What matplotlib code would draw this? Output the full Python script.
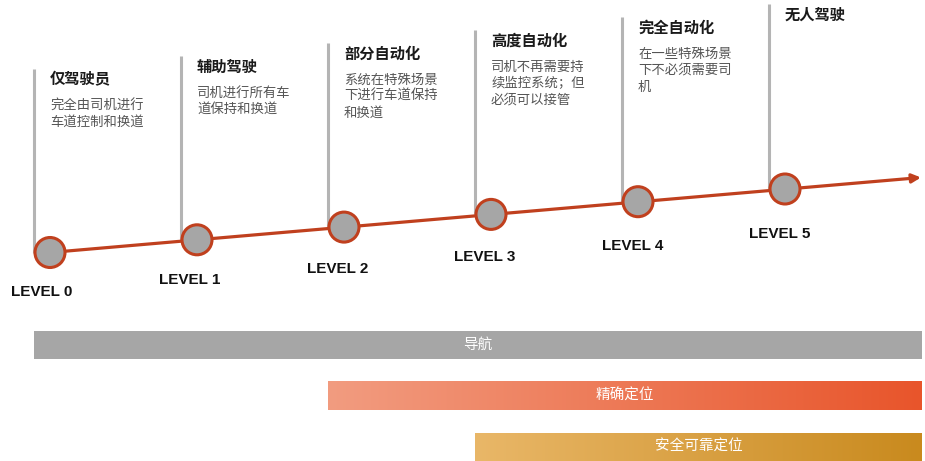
import numpy as np
import matplotlib.pyplot as plt
from matplotlib.patches import Circle
from matplotlib.colors import LinearSegmentedColormap

plt.rcParams['font.family'] = ['Noto Sans CJK SC', 'DejaVu Sans']

levels = [0, 1, 2, 3, 4, 5]
level_labels = ["LEVEL 0", "LEVEL 1", "LEVEL 2", "LEVEL 3", "LEVEL 4", "LEVEL 5"]
titles = ["仅驾驶员", "辅助驾驶", "部分自动化", "高度自动化", "完全自动化", "无人驾驶"]
descriptions = [
    ["完全由司机进行", "车道控制和换道"],
    ["司机进行所有车", "道保持和换道"],
    ["系统在特殊场景", "下进行车道保持", "和换道"],
    ["司机不再需要持", "续监控系统；但", "必须可以接管"],
    ["在一些特殊场景", "下不必须需要司", "机"],
    [],
]

bar_labels = ["导航", "精确定位", "安全可靠定位"]
bar_start_level = [0, 2, 3]
bar_colors = [("#a6a6a6", "#a6a6a6"), ("#f29c80", "#e8552b"), ("#e9b768", "#c98a1e")]

# layout in pixel units
W, H = 925, 461
x0, step = 50, 147
y0, rise = 252.5, 12.7
r = 15
arrow_end = (921, 177.5)
red = "#c0401e"
grey_line = "#b4b4b4"


def pos(i):
    return x0 + step * i, y0 - rise * i


fig = plt.figure(figsize=(W / 100, H / 100), dpi=100)
ax = fig.add_axes([0, 0, 1, 1])
ax.set_xlim(0, W)
ax.set_ylim(H, 0)
ax.axis("off")

# rising timeline with arrow
sx, sy = pos(0)
ax.annotate("", xy=arrow_end, xytext=(sx, sy),
            arrowprops=dict(arrowstyle="-|>", color=red, lw=2.3,
                            mutation_scale=13, shrinkA=0, shrinkB=0),
            zorder=2)

for i in levels:
    cx, cy = pos(i)
    top = 69 - 13.0 * i
    ax.plot([cx - r - 1, cx - r - 1], [top, cy], color=grey_line, lw=2.2, zorder=1,
            solid_capstyle="butt")
    ax.add_patch(Circle((cx, cy), r, facecolor="#a6a6a6", edgecolor=red, lw=2.2, zorder=3))
    ax.text(cx - 8 + 0.6 * i, cy + 39.5 + 1.1 * i, level_labels[i], ha="center", va="center",
            fontsize=11, fontweight="bold", family=["Liberation Sans", "DejaVu Sans"],
            color="#111111")
    ty = top + 10.5
    ax.text(cx, ty, titles[i], ha="left", va="center", fontsize=11,
            fontweight="bold", color="#1a1a1a")
    for k, line in enumerate(descriptions[i]):
        ax.text(cx, ty + 26 + 16.5 * k, line, ha="left", va="center", fontsize=9.6,
                color="#555555")

# capability bars spanning the levels they apply to
bar_tops = [331, 382, 433]
bar_h = 28
for label, lvl, (c1, c2), bt in zip(bar_labels, bar_start_level, bar_colors, bar_tops):
    bx = pos(lvl)[0] - r - 1
    bw = arrow_end[0] + 1 - bx
    cmap = LinearSegmentedColormap.from_list("g", [c1, c2])
    grad = np.linspace(0, 1, 256).reshape(1, -1)
    ax.imshow(grad, cmap=cmap, extent=[bx, bx + bw, bt + bar_h, bt], aspect="auto",
              interpolation="bicubic", zorder=1)
    ax.text(bx + bw / 2, bt + bar_h / 2, label, ha="center", va="center",
            fontsize=10.5, fontweight="medium", color="white", zorder=2)

ax.set_xlim(0, W)
ax.set_ylim(H, 0)
fig.savefig("out.png", dpi=100)
